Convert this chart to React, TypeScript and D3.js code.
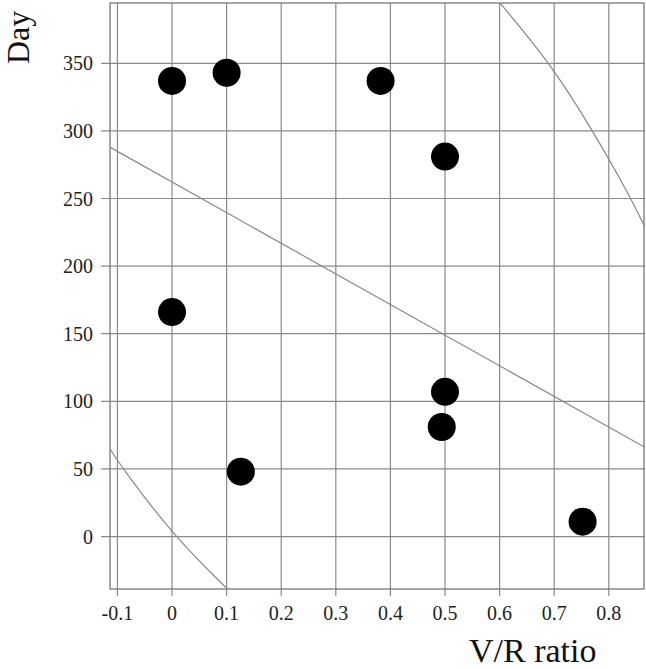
import * as d3 from "d3";
import * as React from "react";

// scatter points
const vrRatio = [0, 0.1, 0.382, 0.5, 0, 0.5, 0.494, 0.126, 0.752];
const day = [337, 343, 337, 281, 166, 107, 81, 48, 11];

// fitted line and the two band curves
const fitX = [-0.114, 0.866];
const fitY = [288, 66];
const lowerBandX = [-0.114, -0.09, 0.004, 0.102];
const lowerBandY = [65, 50, 0, -39];
const upperBandX = [0.6, 0.693, 0.771, 0.841, 0.866];
const upperBandY = [395, 350, 300, 250, 229];

const xTicks = [-0.1, 0, 0.1, 0.2, 0.3, 0.4, 0.5, 0.6, 0.7, 0.8];
const yTicks = [0, 50, 100, 150, 200, 250, 300, 350];

export default function App() {
  const ref = React.useRef<SVGSVGElement>(null);

  React.useEffect(() => {
    document.body.style.margin = "0";
    const width = 646;
    const height = 669;
    const margin = { top: 3, right: 1, bottom: 80, left: 110 };
    const x = d3
      .scaleLinear()
      .domain([-0.1136, 0.8663])
      .range([margin.left, width - margin.right]);
    const y = d3
      .scaleLinear()
      .domain([-38.8, 394.6])
      .range([height - margin.bottom, margin.top]);

    const svg = d3.select(ref.current);
    svg.selectAll("*").remove();
    const font = "'Liberation Serif', 'Times New Roman', serif";
    const grid = "#8a8a8a";

    svg
      .append("defs")
      .append("clipPath")
      .attr("id", "plot")
      .append("rect")
      .attr("x", margin.left)
      .attr("y", margin.top)
      .attr("width", width - margin.left - margin.right)
      .attr("height", height - margin.top - margin.bottom);

    // grid + ticks
    const g = svg.append("g").attr("stroke", grid).attr("stroke-width", 1.2);
    g.selectAll(".vx")
      .data(xTicks)
      .join("line")
      .attr("x1", (d) => x(d))
      .attr("x2", (d) => x(d))
      .attr("y1", margin.top)
      .attr("y2", height - margin.bottom + 7);
    g.selectAll(".hy")
      .data(yTicks)
      .join("line")
      .attr("x1", margin.left - 9)
      .attr("x2", width - margin.right)
      .attr("y1", (d) => y(d))
      .attr("y2", (d) => y(d));

    // frame
    svg
      .append("rect")
      .attr("x", margin.left)
      .attr("y", margin.top)
      .attr("width", width - margin.left - margin.right - 1)
      .attr("height", height - margin.top - margin.bottom)
      .attr("fill", "none")
      .attr("stroke", "#777")
      .attr("stroke-width", 1.3);

    // tick labels
    svg
      .append("g")
      .selectAll("text")
      .data(yTicks)
      .join("text")
      .attr("x", 93)
      .attr("y", (d) => y(d))
      .attr("dy", "0.35em")
      .attr("text-anchor", "end")
      .attr("font-family", font)
      .attr("font-size", 20)
      .attr("fill", "#222")
      .text((d) => d);
    svg
      .append("g")
      .selectAll("text")
      .data(xTicks)
      .join("text")
      .attr("x", (d) => x(d))
      .attr("y", 620)
      .attr("text-anchor", "middle")
      .attr("font-family", font)
      .attr("font-size", 20)
      .attr("fill", "#222")
      .text((d) => (d === 0 ? "0" : d3.format(".1f")(d).replace("\u2212", "-")));

    // curves
    const plot = svg.append("g").attr("clip-path", "url(#plot)");
    const line = d3
      .line<[number, number]>()
      .x((d) => x(d[0]))
      .y((d) => y(d[1]))
      .curve(d3.curveBasis);
    const series = [
      d3.zip(fitX, fitY),
      d3.zip(lowerBandX, lowerBandY),
      d3.zip(upperBandX, upperBandY),
    ];
    plot
      .selectAll("path")
      .data(series)
      .join("path")
      .attr("fill", "none")
      .attr("stroke", "#888")
      .attr("stroke-width", 1.2)
      .attr("d", (d) => line(d as [number, number][]));

    // points
    svg
      .append("g")
      .selectAll("circle")
      .data(d3.zip(vrRatio, day))
      .join("circle")
      .attr("cx", (d) => x(d[0]))
      .attr("cy", (d) => y(d[1]))
      .attr("r", 14)
      .attr("fill", "black");

    // axis titles
    svg
      .append("text")
      .attr("x", 469)
      .attr("y", 662)
      .attr("font-family", font)
      .attr("font-size", 34)
      .attr("fill", "#111")
      .text("V/R ratio");
    svg
      .append("text")
      .attr("transform", "translate(29,64) rotate(-90)")
      .attr("font-family", font)
      .attr("font-size", 32)
      .attr("fill", "#111")
      .text("Day");
  }, []);

  return <svg ref={ref} width={646} height={669} style={{ display: "block" }}></svg>;
}
